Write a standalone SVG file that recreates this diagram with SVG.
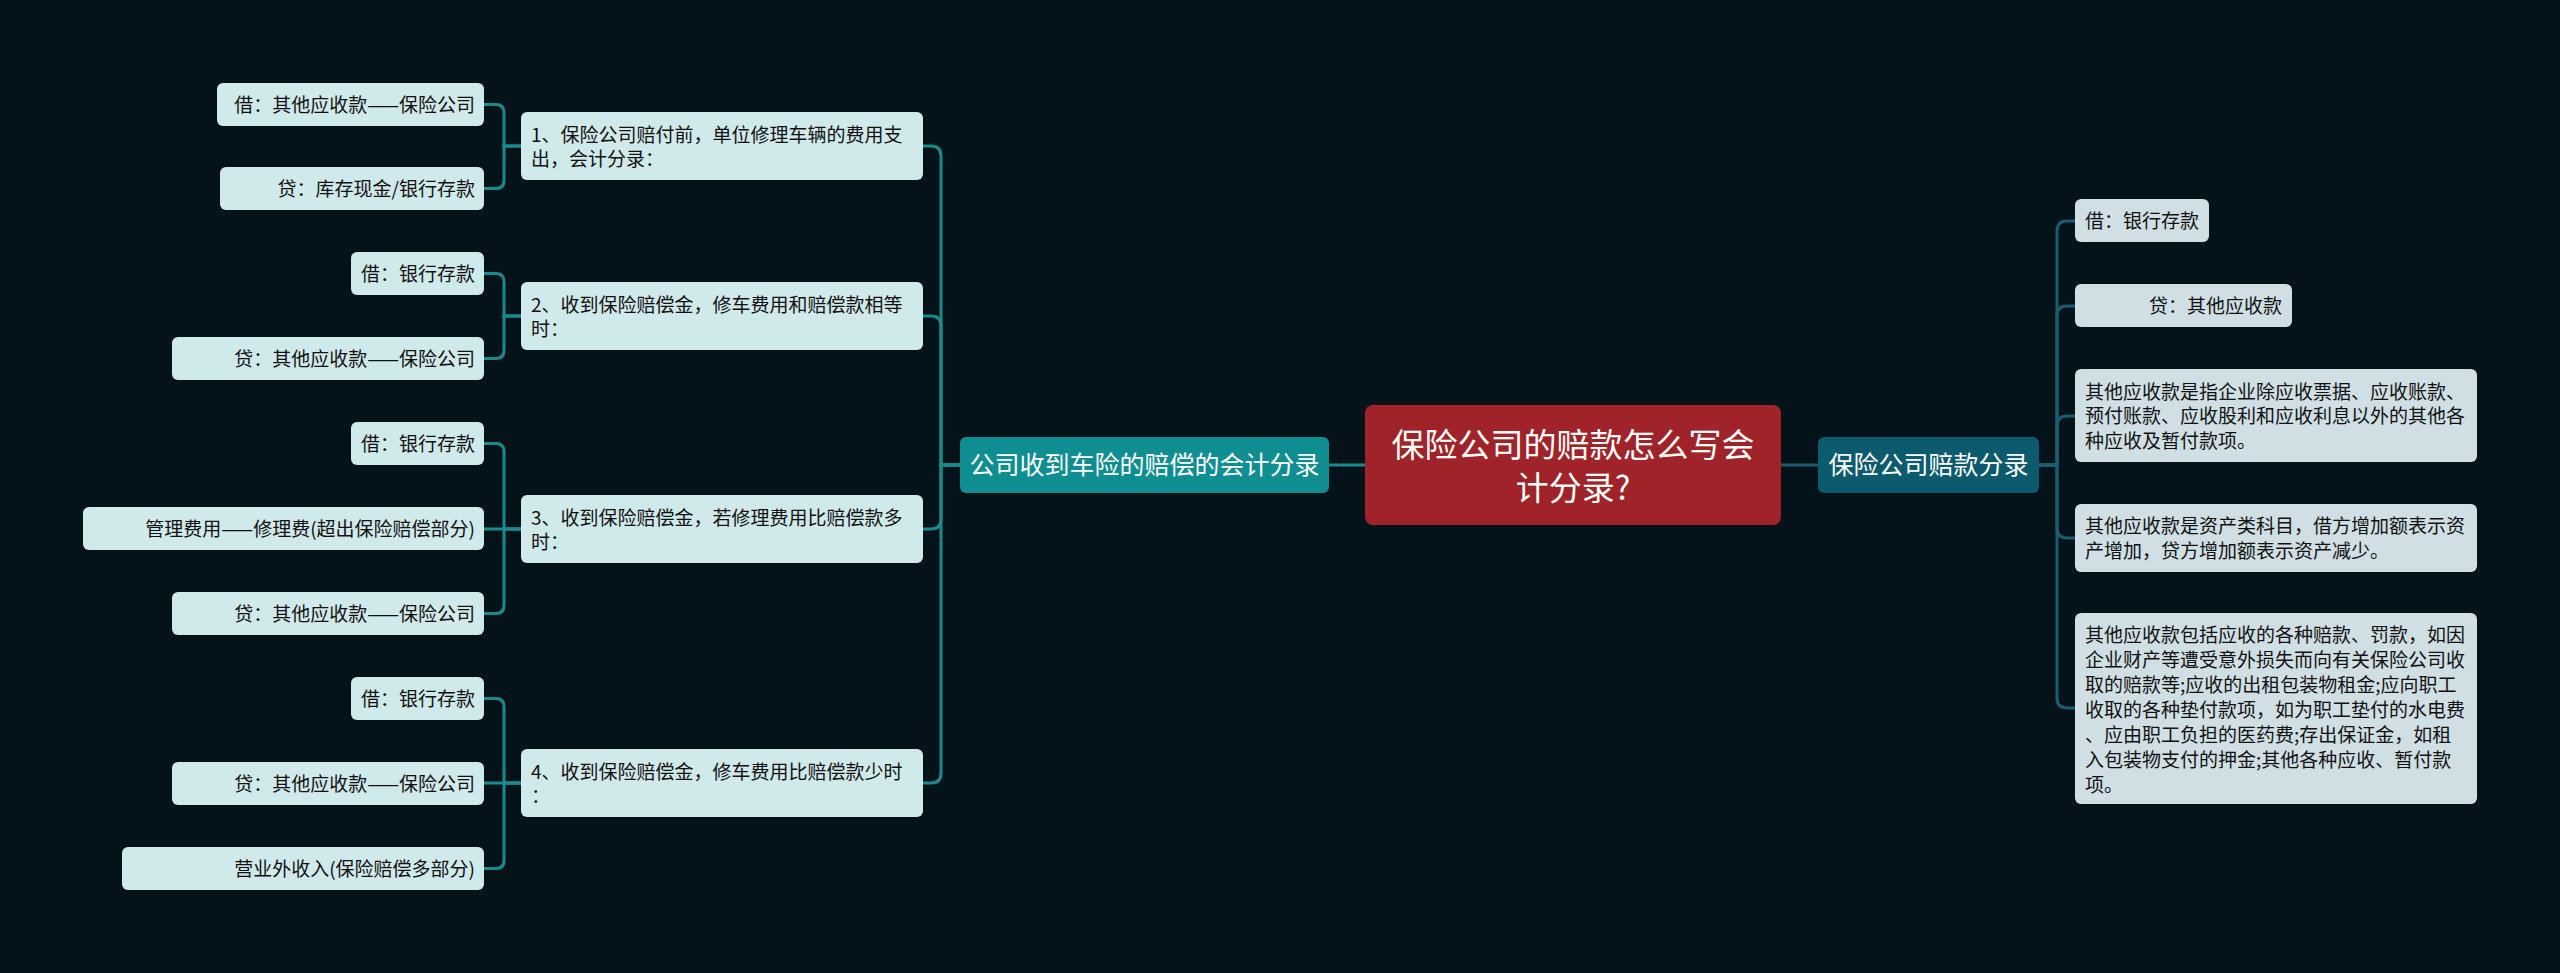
<svg xmlns="http://www.w3.org/2000/svg" width="2560" height="973" viewBox="0 0 2560 973">
<style>
text{font-family:"Noto Sans CJK SC","Noto Sans",sans-serif}
.leafL{fill:#d0e9ea}
.leafR{fill:#cfdfe3}
.t{font-size:19px;fill:#111}
.end{text-anchor:end}
.mid{text-anchor:middle}
.cl{fill:none;stroke:#188c8d;stroke-width:3}
.cr{fill:none;stroke:#195e70;stroke-width:3}
.w{fill:#fff}
</style>
<rect x="0" y="0" width="2560" height="973" fill="#04121a"/>
<g id="connectors">
  <path class="cl" d="M1365,465H1329"/>
  <path class="cr" d="M1781,465H1818"/>
  <path class="cl" d="M960,465H941V156Q941,146 931,146H923"/>
  <path class="cl" d="M960,465H941V326Q941,316 931,316H923"/>
  <path class="cl" d="M960,465H941V519Q941,529 931,529H923"/>
  <path class="cl" d="M960,465H941V773Q941,783 931,783H923"/>
  <path class="cl" d="M521,146H504V112.5Q504,104.5 496,104.5H484"/>
  <path class="cl" d="M521,146H504V180.5Q504,188.5 496,188.5H484"/>
  <path class="cl" d="M521,316H504V281.5Q504,273.5 496,273.5H484"/>
  <path class="cl" d="M521,316H504V350.5Q504,358.5 496,358.5H484"/>
  <path class="cl" d="M521,529H504V451.5Q504,443.5 496,443.5H484"/>
  <path class="cl" d="M521,529H484"/>
  <path class="cl" d="M521,529H504V605.5Q504,613.5 496,613.5H484"/>
  <path class="cl" d="M521,783H504V706.5Q504,698.5 496,698.5H484"/>
  <path class="cl" d="M521,783H484"/>
  <path class="cl" d="M521,783H504V860.5Q504,868.5 496,868.5H484"/>
  <path class="cr" d="M2039,465H2057V231Q2057,221 2067,221H2075"/>
  <path class="cr" d="M2039,465H2057V316Q2057,306 2067,306H2075"/>
  <path class="cr" d="M2039,465H2057V426Q2057,416 2067,416H2075"/>
  <path class="cr" d="M2039,465H2057V528Q2057,538 2067,538H2075"/>
  <path class="cr" d="M2039,465H2057V698Q2057,708 2067,708H2075"/>
</g>
<g id="root">
  <rect x="1365" y="405" width="416" height="120" rx="8" fill="#9f2329"/>
  <text class="w mid" x="1573" y="457" font-size="33">保险公司的赔款怎么写会</text>
  <text class="w mid" x="1573" y="500" font-size="33">计分录?</text>
</g>
<g id="main-left">
  <rect x="960" y="437" width="369" height="56" rx="6" fill="#0e8e91"/>
  <text class="w mid" x="1144.5" y="473.5" font-size="25">公司收到车险的赔偿的会计分录</text>
</g>
<g id="main-right">
  <rect x="1818" y="437" width="221" height="56" rx="6" fill="#0b5a6d"/>
  <text class="w mid" x="1928.5" y="473.5" font-size="25">保险公司赔款分录</text>
</g>
<g id="n1">
  <rect x="521" y="112" width="402" height="68" rx="6" class="leafL"/>
  <text class="t" x="531" y="141.5">1、保险公司赔付前，单位修理车辆的费用支</text>
  <text class="t" x="531" y="165.5">出，会计分录：</text>
</g>
<g id="n1a">
  <rect x="217" y="83" width="267" height="43" rx="6" class="leafL"/>
  <text class="t end" x="475" y="111.5">借：其他应收款——保险公司</text>
</g>
<g id="n1b">
  <rect x="220" y="167" width="264" height="43" rx="6" class="leafL"/>
  <text class="t end" x="475" y="195.5">贷：库存现金/银行存款</text>
</g>
<g id="n2">
  <rect x="521" y="282" width="402" height="68" rx="6" class="leafL"/>
  <text class="t" x="531" y="311.5">2、收到保险赔偿金，修车费用和赔偿款相等</text>
  <text class="t" x="531" y="335.5">时：</text>
</g>
<g id="n2a">
  <rect x="351" y="252" width="133" height="43" rx="6" class="leafL"/>
  <text class="t end" x="475" y="280.5">借：银行存款</text>
</g>
<g id="n2b">
  <rect x="172" y="337" width="312" height="43" rx="6" class="leafL"/>
  <text class="t end" x="475" y="365.5">贷：其他应收款——保险公司</text>
</g>
<g id="n3">
  <rect x="521" y="495" width="402" height="68" rx="6" class="leafL"/>
  <text class="t" x="531" y="524.5">3、收到保险赔偿金，若修理费用比赔偿款多</text>
  <text class="t" x="531" y="548.5">时：</text>
</g>
<g id="n3a">
  <rect x="351" y="422" width="133" height="43" rx="6" class="leafL"/>
  <text class="t end" x="475" y="450.5">借：银行存款</text>
</g>
<g id="n3b">
  <rect x="83" y="507" width="401" height="43" rx="6" class="leafL"/>
  <text class="t end" x="475" y="535.5">管理费用——修理费(超出保险赔偿部分)</text>
</g>
<g id="n3c">
  <rect x="172" y="592" width="312" height="43" rx="6" class="leafL"/>
  <text class="t end" x="475" y="620.5">贷：其他应收款——保险公司</text>
</g>
<g id="n4">
  <rect x="521" y="749" width="402" height="68" rx="6" class="leafL"/>
  <text class="t" x="531" y="778.5">4、收到保险赔偿金，修车费用比赔偿款少时</text>
  <text class="t" x="531" y="802.5">：</text>
</g>
<g id="n4a">
  <rect x="351" y="677" width="133" height="43" rx="6" class="leafL"/>
  <text class="t end" x="475" y="705.5">借：银行存款</text>
</g>
<g id="n4b">
  <rect x="172" y="762" width="312" height="43" rx="6" class="leafL"/>
  <text class="t end" x="475" y="790.5">贷：其他应收款——保险公司</text>
</g>
<g id="n4c">
  <rect x="122" y="847" width="362" height="43" rx="6" class="leafL"/>
  <text class="t end" x="475" y="875.5">营业外收入(保险赔偿多部分)</text>
</g>
<g id="r1">
  <rect x="2075" y="199" width="134" height="43" rx="6" class="leafR"/>
  <text class="t" x="2085" y="228">借：银行存款</text>
</g>
<g id="r2">
  <rect x="2075" y="284" width="217" height="43" rx="6" class="leafR"/>
  <text class="t end" x="2282" y="313">贷：其他应收款</text>
</g>
<g id="r3">
  <rect x="2075" y="369" width="402" height="93" rx="6" class="leafR"/>
  <text class="t" x="2085" y="398.5">其他应收款是指企业除应收票据、应收账款、</text>
  <text class="t" x="2085" y="423">预付账款、应收股利和应收利息以外的其他各</text>
  <text class="t" x="2085" y="447.5">种应收及暂付款项。</text>
</g>
<g id="r4">
  <rect x="2075" y="504" width="402" height="68" rx="6" class="leafR"/>
  <text class="t" x="2085" y="532.5">其他应收款是资产类科目，借方增加额表示资</text>
  <text class="t" x="2085" y="557.5">产增加，贷方增加额表示资产减少。</text>
</g>
<g id="r5">
  <rect x="2075" y="613" width="402" height="191" rx="6" class="leafR"/>
  <text class="t" x="2085" y="642">其他应收款包括应收的各种赔款、罚款，如因</text>
  <text class="t" x="2085" y="667">企业财产等遭受意外损失而向有关保险公司收</text>
  <text class="t" x="2085" y="692">取的赔款等;应收的出租包装物租金;应向职工</text>
  <text class="t" x="2085" y="717">收取的各种垫付款项，如为职工垫付的水电费</text>
  <text class="t" x="2085" y="742">、应由职工负担的医药费;存出保证金，如租</text>
  <text class="t" x="2085" y="767">入包装物支付的押金;其他各种应收、暂付款</text>
  <text class="t" x="2085" y="792">项。</text>
</g>
</svg>
